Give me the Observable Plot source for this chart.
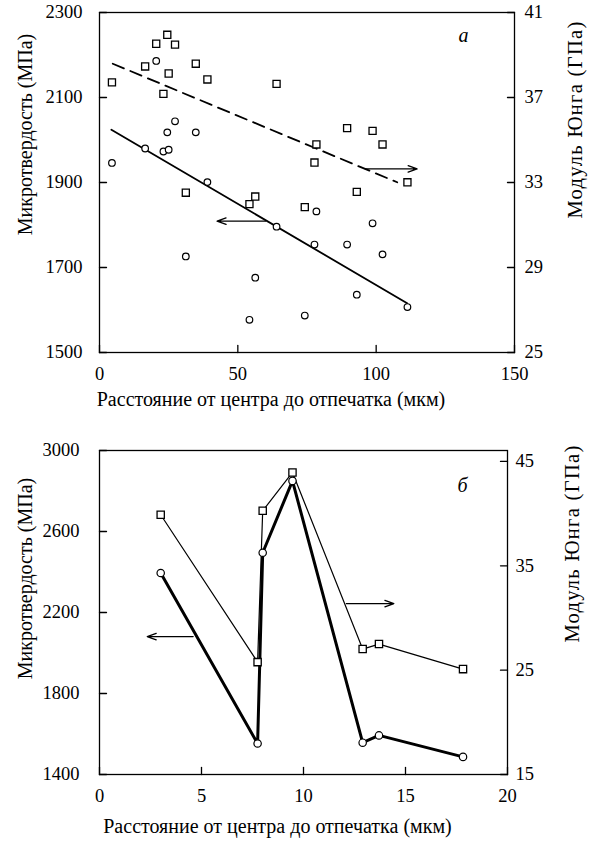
<!DOCTYPE html>
<html><head><meta charset="utf-8">
<script src="https://cdn.jsdelivr.net/npm/d3@7"></script>
<script src="https://cdn.jsdelivr.net/npm/@observablehq/plot@0.6"></script>
<style>
body{margin:0;background:#fff}
svg{display:block}
svg, svg text{font-family:'Liberation Serif','Times New Roman',serif !important}
</style>
</head><body><div id="chart"></div>
<script>
// ---------- Panel а ----------
const distA = [4.5,16.5,20.5,23.1,24.5,25.0,27.3,31.2,34.8,39.0,54.2,56.3,64.0,74.2,77.7,78.4,89.5,93.0,98.7,102.3,111.3];
const hardA = [1946,1980,2186,1973,2018,1977,2044,1726,2018,1901,1577,1676,1796,1587,1754,1832,1754,1636,1804,1731,1607];
const modA  = [37.71,38.46,39.53,37.17,39.95,38.13,39.49,32.52,38.59,37.85,31.98,32.34,37.64,31.84,33.94,34.79,35.56,32.56,35.43,34.79,33.01];
const fitHardAx = [4.3, 111.2];
const fitHardAy = [2024, 1616];
const fitModAx = [4.8, 107.6];
const fitModAy = [38.59, 33.01];
const xTicksA = [0, 50, 100, 150];
const hardTicksA = [1500, 1700, 1900, 2100, 2300];
const modTicksA = [25, 29, 33, 37, 41];
const xDomainA = [0, 150];
const hardDomainA = [1500, 2300];
const modDomainA = [25, 41];
const arrowHardA = {x1: 60, x2: 42.5, y: 1809};
const arrowModA = {x1: 96.1, x2: 114.8, y: 33.64};
const letterA = {text: "а", x: 131.6, y: 2246};

// ---------- Panel б ----------
const distB = [3.0, 7.75, 8.0, 9.46, 12.9, 13.7, 17.82];
const hardB = [2395, 1553, 2495, 2850, 1557, 1593, 1487];
const modB  = [39.89, 25.77, 40.27, 43.95, 27.02, 27.5, 25.1];
const xTicksB = [0, 5, 10, 15, 20];
const hardTicksB = [1400, 1800, 2200, 2600, 3000];
const modTicksB = [15, 25, 35, 45];
const xDomainB = [0, 20];
const hardDomainB = [1400, 3000];
const modDomainB = [15, 46.05];
const arrowHardB = {x1: 4.59, x2: 2.34, y: 2081};
const arrowModB = {x1: 12.1, x2: 14.43, y: 31.38};
const letterB = {text: "б", x: 17.8, y: 2829};

const xLabel = "Расстояние от центра до отпечатка (мкм)";
const hardLabel = "Микротвердость (МПа)";
const modLabel = "Модуль Юнга (ГПа)";

const FONT = "'Liberation Serif','Times New Roman',serif";
const tickShape = {draw(ctx, l) { ctx.moveTo(0, 0); ctx.lineTo(0, -l); }};

function panel(c) {
  const toH = e => c.hardDomain[0] + (e - c.modDomain[0]) * (c.hardDomain[1] - c.hardDomain[0]) / (c.modDomain[1] - c.modDomain[0]);
  const fromH = h => c.modDomain[0] + (h - c.hardDomain[0]) * (c.modDomain[1] - c.modDomain[0]) / (c.hardDomain[1] - c.hardDomain[0]);
  const rows = c.dist.map((x, i) => ({x, h: c.hard[i], e: c.mod[i]}));
  const tk = {stroke: "#000", strokeWidth: 1.3, length: 7, anchor: "start", shape: tickShape};
  const marks = [
    Plot.frame({stroke: "#000", strokeWidth: 1.3}),
    Plot.vector(c.xTicks, {x: d => d, frameAnchor: "bottom", rotate: 0, ...tk}),
    Plot.vector(c.hardTicks, {y: d => d, frameAnchor: "left", rotate: 90, ...tk}),
    Plot.vector(c.modTicks.map(toH), {y: d => d, frameAnchor: "right", rotate: -90, ...tk}),
    Plot.axisX({ticks: c.xTicks, tickSize: 0, tickPadding: 14, label: null, fontSize: 18.5, tickFormat: d => String(d)}),
    Plot.axisY({anchor: "left", ticks: c.hardTicks, tickSize: 0, tickPadding: c.leftPad, label: null, fontSize: 18.5, tickFormat: d => String(d)}),
    Plot.axisY({anchor: "right", ticks: c.modTicks.map(toH), tickSize: 0, tickPadding: c.rightPad, label: null, fontSize: 18.5, tickFormat: d => String(Math.round(fromH(d)))}),
    Plot.text([xLabel], {frameAnchor: "bottom", textAnchor: "middle", lineAnchor: "middle", dx: c.xlDx, dy: c.xlDy, fontSize: 20}),
    Plot.text([hardLabel], {frameAnchor: "left", textAnchor: "middle", lineAnchor: "middle", rotate: -90, dx: -74, dy: c.hlDy, fontSize: 20}),
    Plot.text([modLabel], {frameAnchor: "right", textAnchor: "middle", lineAnchor: "middle", rotate: -90, dx: c.mlDx, dy: c.mlDy, fontSize: 20.5}),
    Plot.text([c.letter], {x: "x", y: "y", text: "text", fontStyle: "italic", fontSize: 20}),
    Plot.arrow([c.arrowHard], {x1: "x1", x2: "x2", y: "y", stroke: "#000", strokeWidth: 1.3, headLength: 11, headAngle: 40}),
    Plot.arrow([c.arrowMod], {x1: "x1", x2: "x2", y: d => toH(d.y), stroke: "#000", strokeWidth: 1.3, headLength: 11, headAngle: 40})
  ];
  if (c.fit) {
    const fh = c.fitHx.map((x, i) => ({x, y: c.fitHy[i]}));
    const fm = c.fitMx.map((x, i) => ({x, y: toH(c.fitMy[i])}));
    marks.push(
      Plot.line(fh, {x: "x", y: "y", stroke: "#000", strokeWidth: 1.8}),
      Plot.line(fm, {x: "x", y: "y", stroke: "#000", strokeWidth: 1.8, strokeDasharray: "12,7"})
    );
  } else {
    marks.push(
      Plot.line(rows, {x: "x", y: d => toH(d.e), stroke: "#000", strokeWidth: 1.2}),
      Plot.line(rows, {x: "x", y: "h", stroke: "#000", strokeWidth: 3})
    );
  }
  marks.push(
    Plot.dot(rows, {x: "x", y: d => toH(d.e), symbol: "square", r: c.sqR, fill: "#fff", stroke: "#000", strokeWidth: 1.3}),
    Plot.dot(rows, {x: "x", y: "h", symbol: "circle", r: c.cR, fill: "#fff", stroke: "#000", strokeWidth: 1.2})
  );
  const svg = Plot.plot({
    width: 593, height: c.height,
    marginTop: c.mt, marginBottom: c.mb, marginLeft: 99, marginRight: c.mr,
    x: {domain: c.xDomain, axis: null},
    y: {domain: c.hardDomain, axis: null},
    style: {fontFamily: FONT, fontSize: "18px", background: "#fff", color: "#000", overflow: "visible"},
    marks
  });
  d3.select(svg).selectAll("text").filter(function() { return this.textContent === modLabel; })
    .attr("letter-spacing", "1.3px");
  return svg;
}

const root = document.getElementById("chart");
root.append(panel({
  dist: distA, hard: hardA, mod: modA, fit: true,
  fitHx: fitHardAx, fitHy: fitHardAy, fitMx: fitModAx, fitMy: fitModAy,
  xTicks: xTicksA, hardTicks: hardTicksA, modTicks: modTicksA,
  xDomain: xDomainA, hardDomain: hardDomainA, modDomain: modDomainA,
  arrowHard: arrowHardA, arrowMod: arrowModA, letter: letterA,
  height: 420, mt: 12, mb: 68, mr: 79, leftPad: 17, rightPad: 10,
  xlDx: -36, xlDy: 47, hlDy: -48, mlDx: 61, mlDy: -63, sqR: 4, cR: 3.3
}));
root.append(panel({
  dist: distB, hard: hardB, mod: modB, fit: false,
  xTicks: xTicksB, hardTicks: hardTicksB, modTicks: modTicksB,
  xDomain: xDomainB, hardDomain: hardDomainB, modDomain: modDomainB,
  arrowHard: arrowHardB, arrowMod: arrowModB, letter: letterB,
  height: 423, mt: 30, mb: 69, mr: 86, leftPad: 20, rightPad: 8,
  xlDx: -26, xlDy: 52, hlDy: -34, mlDx: 65, mlDy: -69, sqR: 4.1, cR: 3.7
}));
</script>
</body></html>
